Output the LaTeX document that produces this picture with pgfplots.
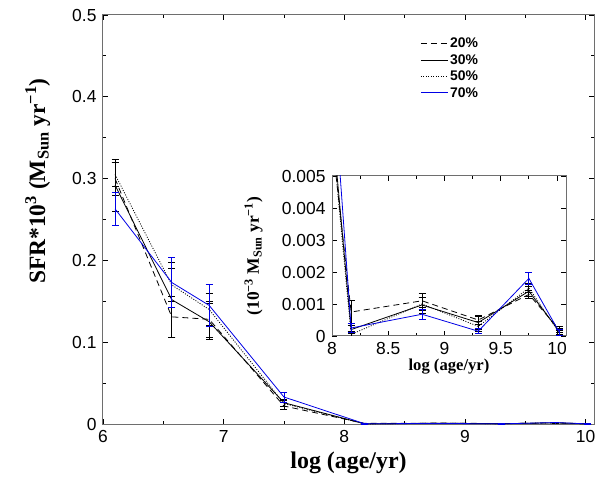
\documentclass[border=0pt]{standalone}
\usepackage{pgfplots}
\pgfplotsset{compat=1.18}
\usepackage{pgfplotstable}
\usepackage{fontspec}
\setmainfont{Liberation Serif}
\newfontfamily\arial{Liberation Sans}
\definecolor{frame}{RGB}{110,110,110}
\definecolor{sfrblue}{RGB}{0,0,230}

% x  y  err  (SFR in units of 10^-3 Msun/yr)
\pgfplotstableread{
x y e
6.10 0.300 0.020
6.57 0.131 0.025
6.88 0.128 0.022
7.50 0.022 0.004
8.17 0.00075 0.00035
8.80 0.00110 0.00022
9.30 0.00050 0.00015
9.75 0.00130 0.00012
10.02 0.00020 0.00010
}\tA
\pgfplotstableread{
x y e
6.10 0.292 0.032
6.57 0.152 0.046
6.88 0.125 0.022
7.50 0.026 0.004
8.17 0.00020 0.00012
8.80 0.00097 0.00025
9.30 0.00042 0.00020
9.75 0.00140 0.00015
10.02 0.00015 0.00010
}\tB
\pgfplotstableread{
x y e
6.10 0.305 0.015
6.57 0.170 0.020
6.88 0.140 0.020
7.50 0.025 0.004
8.17 0.00005 0.00010
8.80 0.00100 0.00020
9.30 0.00030 0.00015
9.75 0.00150 0.00015
10.02 0.00010 0.00008
}\tC
\pgfplotstableread{
x y e
6.10 0.263 0.020
6.57 0.173 0.031
6.88 0.145 0.026
7.50 0.033 0.006
8.17 0.00025 0.00015
8.80 0.00068 0.00015
9.30 0.00015 0.00008
9.75 0.00180 0.00020
10.02 0.00012 0.00010
}\tD

\pgfplotsset{
  box/.style={
    scale only axis, axis line style={draw=frame, line width=1bp},
    tick style={black, line width=0.8bp}, tick align=inside,
    major tick length=5bp, minor tick length=3bp,
    tick label style={font=\arial\fontsize{17.5}{17.5}\selectfont},
    xticklabel style={yshift=-3bp}, yticklabel style={xshift=-3bp},
    /pgf/number format/assume math mode=true,
    axis background/.style={fill=white},
  },
  err/.style={/pgfplots/error bars/.cd, y dir=both, y explicit,
    error bar style={solid, line width=0.8bp},
    error mark options={solid, rotate=90, mark size=3.5bp, line width=0.8bp},
    /pgfplots/.cd},
  l20/.style={black, line width=0.8bp, dash pattern=on 6bp off 4bp},
  l30/.style={black, line width=0.8bp},
  l50/.style={black, line width=0.8bp, dash pattern=on 1bp off 1.5bp},
  l70/.style={color=sfrblue, line width=0.8bp},
}

\begin{document}
\begin{tikzpicture}
\begin{axis}[box, at={(0,0)}, anchor=south west,
  width=491bp, height=409bp,
  xmin=6, xmax=10.07, ymin=0, ymax=0.5,
  xtick={6,7,8,9,10}, minor x tick num=1,
  ytick={0,0.1,0.2,0.3,0.4,0.5}, minor y tick num=1,
  xlabel={\bfseries log (age/yr)},
  ylabel={\bfseries SFR*10\textsuperscript{3} (M\textsubscript{Sun} yr\textsuperscript{−1})},
  xlabel style={font=\fontsize{24}{24}\selectfont, at={(axis description cs:0.5,0)}, anchor=base, yshift=-44bp},
  ylabel style={font=\fontsize{23.5}{23.5}\selectfont, at={(axis description cs:-0.1181,0.594)}, anchor=base},
  legend style={at={(0.64,0.955)}, anchor=north west, draw=none, fill=none,
    font=\arial\bfseries\fontsize{14}{14}\selectfont, row sep=1.5bp},
  legend cell align=left,
]
\addlegendimage{legend image code/.code={\draw[black, line width=0.8bp, dash pattern=on 6bp off 4bp] (0bp,0bp) -- (27bp,0bp);}}
\addlegendentry{20\%}
\addlegendimage{legend image code/.code={\draw[black, line width=0.8bp] (0bp,0bp) -- (27bp,0bp);}}
\addlegendentry{30\%}
\addlegendimage{legend image code/.code={\draw[black, line width=0.8bp, dash pattern=on 1bp off 1.5bp] (0bp,0bp) -- (27bp,0bp);}}
\addlegendentry{50\%}
\addlegendimage{legend image code/.code={\node[inner sep=0pt, anchor=west] at (0bp,0bp) {\textcolor{sfrblue}{\rule[-0.4bp]{27bp}{0.8bp}}};}}
\addlegendentry{70\%}
\addplot[forget plot, l20, err] table[x=x, y=y, y error=e] {\tA};
\addplot[forget plot, l30, err] table[x=x, y=y, y error=e] {\tB};
\addplot[forget plot, l50, err] table[x=x, y=y, y error=e] {\tC};
\addplot[forget plot, l70, err] table[x=x, y=y, y error=e] {\tD};
\end{axis}

\begin{axis}[box, at={(229bp,88bp)}, anchor=south west,
  width=234bp, height=160bp,
  xmin=8, xmax=10.08, ymin=0, ymax=0.005,
  xtick={8,8.5,9,9.5,10}, minor x tick num=1,
  ytick={0,0.001,0.002,0.003,0.004,0.005},
  yticklabels={0,0.001,0.002,0.003,0.004,0.005},
  scaled y ticks=false,
  xlabel={\bfseries log (age/yr)},
  ylabel={\bfseries (10\textsuperscript{−3} M\textsubscript{Sun} yr\textsuperscript{−1})},
  xlabel style={font=\fontsize{16.7}{16.7}\selectfont, at={(axis description cs:0.5,0)}, anchor=base, yshift=-34bp},
  ylabel style={font=\fontsize{17.5}{17.5}\selectfont, at={(axis description cs:-0.312,0.5)}, anchor=base},
]
\addplot[l20, err] table[x=x, y=y, y error=e] {\tA};
\addplot[l30, err] table[x=x, y=y, y error=e] {\tB};
\addplot[l50, err] table[x=x, y=y, y error=e] {\tC};
\addplot[l70, err] table[x=x, y=y, y error=e] {\tD};
\end{axis}
\pgfresetboundingbox
\useasboundingbox (-103bp,-59bp) rectangle (497bp,424bp);
\end{tikzpicture}
\end{document}
